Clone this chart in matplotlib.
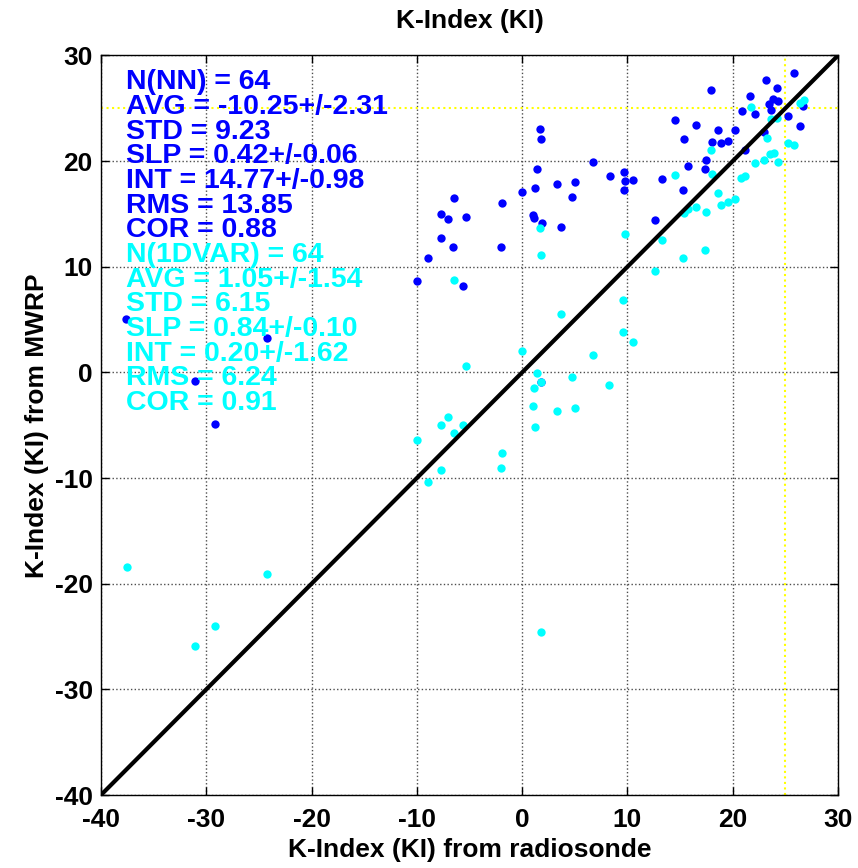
import matplotlib
matplotlib.use("Agg")
import matplotlib.pyplot as plt

plt.rcParams['font.family'] = ['Liberation Sans', 'DejaVu Sans']
plt.rcParams['axes.unicode_minus'] = False

# MWRP neural-network retrieval (blue)
nn_x = [-6.46, -7.66, -7.03, -5.32, -7.73, -6.56, -8.93, -10.0, -5.6, -37.6,
        -24.2, -31.1, -29.2, 1.83, 25.78, 23.19, 17.94, 24.17, 23.86, 24.3,
        23.48, 21.68, 23.6, 26.7, 20.85, 22.15, 25.24, 14.53, 16.52, 26.38,
        1.7, 1.8, 18.6, 20.25, 15.38, 18.04, 18.89, 19.55, 23.0, 21.2,
        6.76, 17.5, 17.41, 15.76, 1.39, 8.31, 9.64, 9.73, 10.52, 9.64,
        13.27, 5.05, 3.35, 1.23, -0.03, 15.29, 4.77, -1.93, 1.0, 1.14,
        1.9, 3.7, 12.64, -2.02]
nn_y = [16.5, 15.0, 14.5, 14.7, 12.7, 11.9, 10.85, 8.67, 8.2, 5.1,
        3.3, -0.85, -4.9, -0.87, 28.3, 27.65, 26.7, 26.9, 25.9, 25.7,
        25.4, 26.2, 24.8, 25.2, 24.7, 24.5, 24.3, 23.9, 23.4, 23.3,
        23.0, 22.1, 22.9, 22.9, 22.1, 21.8, 21.7, 21.9, 22.8, 21.07,
        19.9, 20.1, 19.3, 19.5, 19.3, 18.55, 18.95, 18.1, 18.2, 17.25,
        18.3, 18.0, 17.85, 17.5, 17.1, 17.25, 16.6, 16.0, 14.9, 14.6,
        14.1, 13.8, 14.4, 11.9]

# MWRP 1DVAR retrieval (cyan)
var_x = [-6.46, -5.32, -7.03, -7.66, -5.6, 1.83, 15.26, 12.58, 9.62, 3.69,
         9.62, 10.5, 0.0, 6.75, 1.42, 1.83, 4.73, 8.26, 1.14, 1.04,
         3.31, 5.04, 1.2, -6.5, -10.0, -1.89, -1.99, -7.73, -8.96, 21.7,
         26.35, 26.73, 23.6, 24.17, 23.22, 25.21, 25.78, 17.94, 23.5, 23.89,
         23.0, 24.3, 22.15, 14.53, 18.04, 20.82, 21.2, 18.6, 18.89, 19.55,
         20.25, 16.52, 17.47, 15.38, 1.7, 9.73, 13.27, 17.38, -37.5, -24.2,
         -29.2, -31.1, 1.8, 15.76]
var_y = [8.7, 0.57, -4.23, -4.96, -4.96, 11.1, 10.8, 9.57, 6.88, 5.52,
         3.82, 2.87, 2.0, 1.63, -0.1, -0.87, -0.4, -1.16, -1.44, -3.18,
         -3.66, -3.37, -5.2, -5.75, -6.4, -7.6, -9.06, -9.2, -10.4, 25.1,
         25.5, 25.8, 24.0, 24.1, 22.2, 21.7, 21.5, 21.07, 20.7, 20.75,
         20.1, 19.9, 19.8, 18.67, 18.77, 18.4, 18.6, 17.0, 15.8, 16.1,
         16.4, 15.65, 15.2, 15.1, 13.65, 13.1, 12.5, 11.55, -18.4, -19.1,
         -24.0, -25.9, -24.6, 15.5]

nn_stats = ["N(NN) = 64", "AVG = -10.25+/-2.31", "STD = 9.23", "SLP = 0.42+/-0.06",
            "INT = 14.77+/-0.98", "RMS = 13.85", "COR = 0.88"]
var_stats = ["N(1DVAR) = 64", "AVG = 1.05+/-1.54", "STD = 6.15", "SLP = 0.84+/-0.10",
             "INT = 0.20+/-1.62", "RMS = 6.24", "COR = 0.91"]

lims = [-40, 30]
ticks = [-40, -30, -20, -10, 0, 10, 20, 30]
thresh = 25

fig = plt.figure(figsize=(8.58, 8.68), dpi=100)
ax = fig.add_axes([0.1177, 0.0841, 0.859, 0.852])

ax.plot(nn_x, nn_y, linestyle='none', marker='o', ms=6, mec='none', color=(0, 0, 1), zorder=3)
ax.plot(var_x, var_y, linestyle='none', marker='o', ms=6, mec='none', color=(0, 1, 1), zorder=3)
ax.plot(lims, lims, color='black', lw=3, zorder=4)
ax.axvline(thresh, color=(1, 1, 0), ls=':', lw=1.5, zorder=2)
ax.axhline(thresh, color=(1, 1, 0), ls=':', lw=1.5, zorder=2)

ax.set_xlim(lims)
ax.set_ylim(lims)
ax.set_xticks(ticks)
ax.set_yticks(ticks)
ax.grid(True, color='0.3', ls=':', lw=1)
ax.set_axisbelow(True)
ax.tick_params(direction='in', length=6, width=1, top=True, right=True,
               labelsize=19, pad=6)
ax.tick_params(axis='x', pad=9)
for lab in ax.get_xticklabels() + ax.get_yticklabels():
    lab.set_fontweight('bold')
for sp in ax.spines.values():
    sp.set_linewidth(1)

ax.set_title("K-Index (KI)", fontsize=19, fontweight='bold', pad=20)
ax.set_xlabel("K-Index (KI) from radiosonde", fontsize=19, fontweight='bold', labelpad=5)
ax.set_ylabel("K-Index (KI) from MWRP", fontsize=19, fontweight='bold', labelpad=4)

x0 = -37.6
y0 = 26.8
dy = 2.335
for i, s in enumerate(nn_stats + var_stats):
    col = (0, 0, 1) if i < len(nn_stats) else (0, 1, 1)
    ax.text(x0, y0 - i * dy, s, color=col, fontsize=20.5, fontweight='bold',
            ha='left', va='baseline', zorder=5)

fig.savefig("out.png", dpi=100)
